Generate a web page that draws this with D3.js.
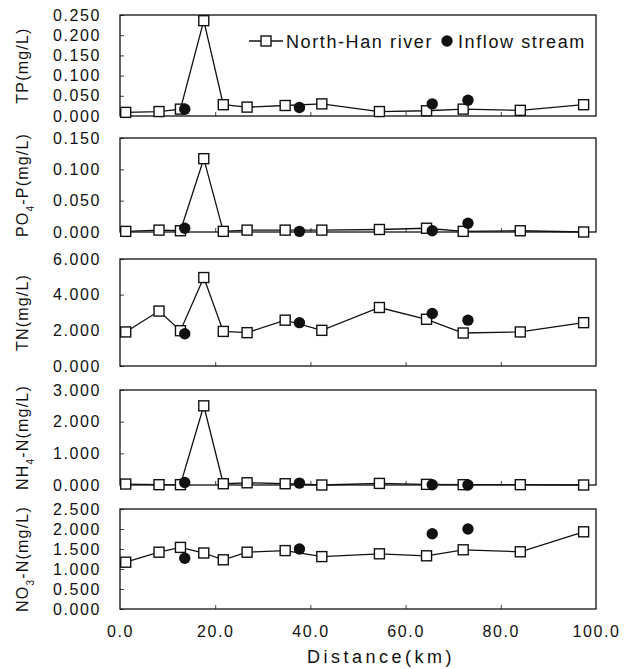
<!DOCTYPE html>
<html>
<head>
<meta charset="utf-8">
<script src="https://cdn.jsdelivr.net/npm/d3@7/dist/d3.min.js"></script>
<style>
  html, body { margin: 0; padding: 0; background: #fff; }
  svg text { font-family: "Liberation Sans", Arial, sans-serif; fill: #111; }
</style>
</head>
<body>
<div id="chart"></div>
<script>
// sampling distances (km)
const riverKm = [1.2, 8.2, 12.7, 17.6, 21.7, 26.7, 34.7, 42.4, 54.5, 64.4, 72.1, 84.1, 97.4];
const inflowKm = [13.6, 37.7, 65.6, 73.1];

// concentrations (mg/L)
const tpRiver = [0.009, 0.011, 0.017, 0.236, 0.028, 0.022, 0.026, 0.030, 0.011, 0.013, 0.017, 0.014, 0.028];
const tpInflow = [0.017, 0.021, 0.030, 0.039];
const po4River = [0.001, 0.003, 0.002, 0.117, 0.001, 0.003, 0.003, 0.003, 0.004, 0.006, 0.001, 0.002, 0.000];
const po4Inflow = [0.006, 0.001, 0.002, 0.014];
const tnRiver = [1.91, 3.08, 1.98, 4.96, 1.94, 1.87, 2.57, 2.00, 3.28, 2.62, 1.85, 1.91, 2.43];
const tnInflow = [1.81, 2.43, 2.94, 2.57];
const nh4River = [0.03, 0.01, 0.01, 2.50, 0.04, 0.07, 0.04, 0.00, 0.05, 0.02, 0.01, 0.01, 0.00];
const nh4Inflow = [0.08, 0.06, 0.01, 0.00];
const no3River = [1.17, 1.42, 1.54, 1.40, 1.23, 1.42, 1.46, 1.31, 1.38, 1.33, 1.48, 1.43, 1.93];
const no3Inflow = [1.27, 1.50, 1.88, 2.00];

const xTicks = [0, 20, 40, 60, 80, 100];

const panels = [
  { river: tpRiver, inflow: tpInflow, max: 0.25, step: 0.05, top: 15, bottom: 116,
    label: [['TP(mg/L)', false]] },
  { river: po4River, inflow: po4Inflow, max: 0.15, step: 0.05, top: 138, bottom: 232,
    label: [['PO', false], ['4', true], ['-P(mg/L)', false]] },
  { river: tnRiver, inflow: tnInflow, max: 6, step: 2, top: 259, bottom: 366,
    label: [['TN(mg/L)', false]] },
  { river: nh4River, inflow: nh4Inflow, max: 3, step: 1, top: 390, bottom: 485,
    label: [['NH', false], ['4', true], ['-N(mg/L)', false]] },
  { river: no3River, inflow: no3Inflow, max: 2.5, step: 0.5, top: 509, bottom: 609,
    label: [['NO', false], ['3', true], ['-N(mg/L)', false]] },
];

const width = 634, height = 669;
const left = 120, right = 596;

const svg = d3.select('#chart').append('svg')
  .attr('width', width).attr('height', height);

const x = d3.scaleLinear().domain([0, 100]).range([left, right]);

panels.forEach((p, i) => {
  const y = d3.scaleLinear().domain([0, p.max]).range([p.bottom, p.top]);
  const g = svg.append('g');
  const yTicks = d3.range(0, p.max + p.step / 2, p.step);

  // y axis: ticks point inward
  g.append('g')
    .attr('transform', `translate(${left},0)`)
    .call(d3.axisLeft(y).tickValues(yTicks).tickFormat(d3.format('.3f'))
      .tickSizeInner(-4).tickSizeOuter(0).tickPadding(19))
    .call((a) => a.select('.domain').remove())
    .call((a) => a.selectAll('line').attr('stroke', '#444'))
    .call((a) => a.selectAll('text').attr('font-size', 16).attr('letter-spacing', 1.6)
      .attr('font-family', '"Liberation Sans", Arial, sans-serif').attr('fill', '#111'));

  // x ticks on every panel bottom
  g.append('g')
    .attr('transform', `translate(0,${p.bottom})`)
    .call(d3.axisBottom(x).tickValues(xTicks.slice(1, -1)).tickSizeInner(-4).tickSizeOuter(0))
    .call((a) => a.select('.domain').remove())
    .call((a) => a.selectAll('line').attr('stroke', '#444'))
    .call((a) => a.selectAll('text').remove());

  // frame
  g.append('rect')
    .attr('x', left).attr('y', p.top)
    .attr('width', right - left).attr('height', p.bottom - p.top)
    .attr('fill', 'none').attr('stroke', '#111').attr('stroke-width', 1.3);

  // y title
  const t = g.append('text')
    .attr('transform', `translate(28,${(p.top + p.bottom) / 2}) rotate(-90)`)
    .attr('text-anchor', 'middle')
    .attr('font-size', 16).attr('letter-spacing', 1.2);
  p.label.forEach(([s, sub]) => {
    const ts = t.append('tspan').text(s);
    if (sub) ts.attr('font-size', 10).attr('baseline-shift', 'sub');
  });

  const riverPts = riverKm.map((d, j) => [d, p.river[j]]);
  const inflowPts = inflowKm.map((d, j) => [d, p.inflow[j]]);

  g.append('path')
    .datum(riverPts)
    .attr('d', d3.line().x((d) => x(d[0])).y((d) => y(d[1])))
    .attr('fill', 'none').attr('stroke', '#111').attr('stroke-width', 1.3);

  g.selectAll('rect.sq').data(riverPts).join('rect')
    .attr('class', 'sq')
    .attr('x', (d) => x(d[0]) - 5).attr('y', (d) => y(d[1]) - 5)
    .attr('width', 10).attr('height', 10)
    .attr('fill', '#fff').attr('stroke', '#111').attr('stroke-width', 1.4);

  g.selectAll('circle').data(inflowPts).join('circle')
    .attr('cx', (d) => x(d[0])).attr('cy', (d) => y(d[1]))
    .attr('r', 5.7).attr('fill', '#111');
});

// x axis labels on the bottom panel
const last = panels[panels.length - 1];
svg.append('g')
  .attr('transform', `translate(0,${last.bottom})`)
  .call(d3.axisBottom(x).tickValues(xTicks).tickFormat(d3.format('.1f')).tickSize(0).tickPadding(17))
  .call((a) => a.select('.domain').remove())
  .call((a) => a.selectAll('text').attr('font-size', 16).attr('letter-spacing', 1.6)
    .attr('font-family', '"Liberation Sans", Arial, sans-serif').attr('fill', '#111'));

svg.append('text')
  .attr('x', 381).attr('y', 663)
  .attr('text-anchor', 'middle').attr('font-size', 18).attr('letter-spacing', 3.5)
  .text('Distance(km)');

// legend
const lg = svg.append('g').attr('transform', 'translate(0,41)');
lg.append('line').attr('x1', 249).attr('x2', 283).attr('stroke', '#111').attr('stroke-width', 1.3);
lg.append('rect').attr('x', 261).attr('y', -5).attr('width', 10).attr('height', 10)
  .attr('fill', '#fff').attr('stroke', '#111').attr('stroke-width', 1.4);
lg.append('text').attr('x', 286).attr('y', 6.5).attr('font-size', 18).attr('letter-spacing', 1.6)
  .text('North-Han river');
lg.append('circle').attr('cx', 447).attr('cy', 0).attr('r', 5.7).attr('fill', '#111');
lg.append('text').attr('x', 458).attr('y', 6.5).attr('font-size', 18).attr('letter-spacing', 1.6)
  .text('Inflow stream');
</script>
</body>
</html>
